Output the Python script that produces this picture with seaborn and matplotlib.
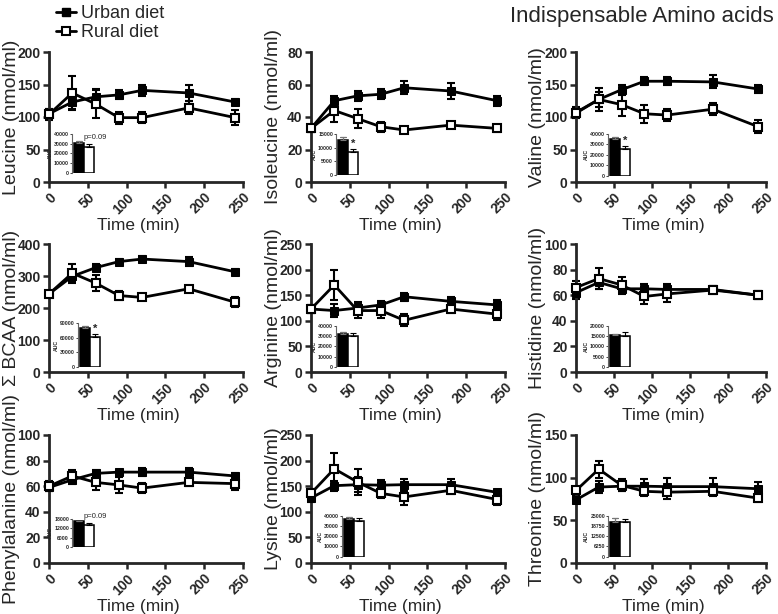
import matplotlib
matplotlib.use("Agg")
import matplotlib.pyplot as plt
import seaborn as sns
import numpy as np
import pandas as pd
from matplotlib.lines import Line2D

# ---------------- data ----------------
time = [0, 30, 60, 90, 120, 180, 240]

leucine_urban = [105, 123, 131, 134, 141, 137, 123]
leucine_urban_sem = [8, 10, 12, 7, 9, 12, 4]
leucine_rural = [104, 137, 120, 99, 99, 114, 99]
leucine_rural_sem = [8, 26, 22, 9, 8, 10, 12]

isoleucine_urban = [33, 50, 53, 54, 58, 56, 50]
isoleucine_urban_sem = [2, 3, 3, 3, 4, 5, 3]
isoleucine_rural = [33, 44, 39, 34, 32, 35, 33]
isoleucine_rural_sem = [2, 7, 6, 3, 2, 2, 2]

valine_urban = [107, 127, 142, 155, 155, 154, 143]
valine_urban_sem = [8, 12, 8, 6, 6, 10, 6]
valine_rural = [106, 127, 119, 105, 103, 112, 85]
valine_rural_sem = [8, 18, 18, 14, 9, 9, 10]

bcaa_urban = [244, 299, 326, 345, 353, 345, 313]
bcaa_urban_sem = [10, 15, 10, 8, 8, 15, 8]
bcaa_rural = [244, 309, 278, 239, 233, 260, 218]
bcaa_rural_sem = [10, 30, 25, 15, 8, 10, 15]

arginine_urban = [123, 120, 125, 131, 147, 138, 131]
arginine_urban_sem = [8, 12, 12, 8, 8, 8, 10]
arginine_rural = [123, 170, 120, 120, 101, 123, 113]
arginine_rural_sem = [8, 30, 15, 15, 12, 8, 12]

histidine_urban = [62, 70, 65, 65, 64.5, 64.5, 60]
histidine_urban_sem = [5, 5, 4, 4, 4, 3, 3]
histidine_rural = [66, 73, 68, 59, 61, 64, 60]
histidine_rural_sem = [5, 8, 6, 6, 6, 3, 3]

phenylalanine_urban = [59, 65, 70, 71, 71, 71, 68]
phenylalanine_urban_sem = [3, 3, 3, 2, 3, 3, 2]
phenylalanine_rural = [60, 68, 63, 61, 58.5, 63, 62]
phenylalanine_rural_sem = [4, 5, 6, 6, 4, 3, 5]

lysine_urban = [127, 151, 153, 152, 153, 153, 138]
lysine_urban_sem = [8, 10, 15, 10, 12, 12, 5]
lysine_rural = [136, 184, 158, 136, 129, 142, 124]
lysine_rural_sem = [8, 30, 25, 10, 15, 8, 10]

threonine_urban = [74, 89, 90, 90, 89.5, 89.5, 87]
threonine_urban_sem = [4, 7, 6, 8, 10, 10, 8]
threonine_rural = [85, 110, 91, 84, 83, 84, 76]
threonine_rural_sem = [4, 10, 7, 5, 8, 6, 5]

ylabels = ["Leucine (nmol/ml)", "Isoleucine (nmol/ml)", "Valine (nmol/ml)",
           "Σ BCAA (nmol/ml)", "Arginine (nmol/ml)", "Histidine (nmol/ml)",
           "Phenylalanine (nmol/ml)", "Lysine (nmol/ml)", "Threonine (nmol/ml)"]
ymax = [200, 80, 200, 400, 250, 100, 100, 250, 150]
ystep = [50, 20, 50, 100, 50, 20, 20, 50, 50]
xticks = [0, 50, 100, 150, 200, 250]

# AUC insets
auc_urban = [30800, 12800, 35200, 80500, 31900, 15400, 16300, 36400, 21300]
auc_urban_sem = [1500, 900, 1500, 5000, 2000, 800, 600, 2000, 2500]
auc_rural = [26200, 8300, 25500, 62200, 29900, 15300, 14000, 35000, 21300]
auc_rural_sem = [3000, 1200, 3000, 5000, 3500, 1800, 1200, 3000, 1500]
auc_ticks = [[0, 10000, 20000, 30000, 40000],
             [0, 5000, 10000, 15000],
             [0, 10000, 20000, 30000, 40000],
             [0, 30000, 60000, 90000],
             [0, 10000, 20000, 30000, 40000],
             [0, 5000, 10000, 15000, 20000],
             [0, 6000, 12000, 18000],
             [0, 10000, 20000, 30000, 40000],
             [0, 6250, 12500, 18750, 25000]]
auc_notes = ["p=0.09", "*", "*", "*", "", "", "p=0.09", "", ""]

series = [
    (leucine_urban, leucine_urban_sem, leucine_rural, leucine_rural_sem),
    (isoleucine_urban, isoleucine_urban_sem, isoleucine_rural, isoleucine_rural_sem),
    (valine_urban, valine_urban_sem, valine_rural, valine_rural_sem),
    (bcaa_urban, bcaa_urban_sem, bcaa_rural, bcaa_rural_sem),
    (arginine_urban, arginine_urban_sem, arginine_rural, arginine_rural_sem),
    (histidine_urban, histidine_urban_sem, histidine_rural, histidine_rural_sem),
    (phenylalanine_urban, phenylalanine_urban_sem, phenylalanine_rural, phenylalanine_rural_sem),
    (lysine_urban, lysine_urban_sem, lysine_rural, lysine_rural_sem),
    (threonine_urban, threonine_urban_sem, threonine_rural, threonine_rural_sem),
]

# ---------------- style ----------------
sns.set_style("ticks")
plt.rcParams['font.family'] = ['Liberation Sans', 'DejaVu Sans']
plt.rcParams['axes.linewidth'] = 2.0

W, H = 778, 614
fig = plt.figure(figsize=(W / 100, H / 100), dpi=100)

col_left = [49, 311, 576]
col_w = [194, 194, 190]
row_tb = [(52, 182), (244, 372), (435, 563)]

# inset placement (fractions of the main axes): left, bottom, width, height
inset_pos = [
    (0.12, 0.07, 0.12, 0.30),
    (0.13, 0.055, 0.12, 0.315),
    (0.17, 0.05, 0.12, 0.32),
    (0.15, 0.04, 0.12, 0.34),
    (0.13, 0.04, 0.12, 0.32),
    (0.17, 0.04, 0.12, 0.32),
    (0.12, 0.125, 0.12, 0.22),
    (0.16, 0.05, 0.12, 0.32),
    (0.17, 0.05, 0.12, 0.32),
]

for i, (u, us, r, rs) in enumerate(series):
    row, col = divmod(i, 3)
    top, bot = row_tb[row]
    rect = [col_left[col] / W, 1 - bot / H, col_w[col] / W, (bot - top) / H]
    ax = fig.add_axes(rect)
    df = pd.DataFrame({"time": time, "urban": u, "rural": r})

    ax.errorbar(time, u, yerr=us, fmt='none', ecolor='black', elinewidth=1.5,
                capsize=3, capthick=1.5, zorder=2, clip_on=False)
    ax.errorbar(time, r, yerr=rs, fmt='none', ecolor='black', elinewidth=1.5,
                capsize=3, capthick=1.5, zorder=2, clip_on=False)
    sns.lineplot(data=df, x="time", y="urban", ax=ax, color='black', lw=2,
                 marker='s', markersize=5.6, markerfacecolor='black',
                 markeredgecolor='black', zorder=3, clip_on=False)
    sns.lineplot(data=df, x="time", y="rural", ax=ax, color='black', lw=2,
                 marker='s', markersize=5.8, markerfacecolor='white',
                 markeredgecolor='black', markeredgewidth=1.5, zorder=4, clip_on=False)

    ax.set_xlim(0, 250)
    ax.set_ylim(0, ymax[i])
    ax.set_xticks(xticks)
    yt = np.arange(0, ymax[i] + 1, ystep[i])
    ax.set_yticks(yt)
    ax.set_xticklabels([str(t) for t in xticks], rotation=45, ha='right',
                       rotation_mode='anchor', fontsize=10, fontweight='bold')
    ax.set_yticklabels([str(int(t)) for t in yt], fontsize=10, fontweight='bold')
    ax.tick_params(axis='both', length=4, width=1.8, pad=2)
    ax.set_xlabel("Time (min)", fontsize=12.5, labelpad=1)
    ax.xaxis.label.set_x(0.46)
    ax.set_ylabel(ylabels[i], fontsize=14, va='center')
    ax.yaxis.set_label_coords(-38 / col_w[col], 0.5)
    sns.despine(ax=ax)
    ax.spines['left'].set_linewidth(2)
    ax.spines['bottom'].set_linewidth(2)

    # AUC inset
    lx, by, iw, ih = inset_pos[i]
    ins = ax.inset_axes([lx, by, iw, ih])
    bdf = pd.DataFrame({"diet": ["Urban", "Rural"],
                        "auc": [auc_urban[i], auc_rural[i]]})
    sns.barplot(data=bdf, x="diet", y="auc", hue="diet",
                palette=["black", "white"], edgecolor="black", linewidth=1.1,
                width=0.98, legend=False, ax=ins)
    ins.errorbar([0, 1], [auc_urban[i], auc_rural[i]],
                 yerr=[[0, 0], [auc_urban_sem[i], auc_rural_sem[i]]],
                 fmt='none', ecolor='black', elinewidth=0.8, capsize=2, capthick=0.8)
    ins.errorbar([0], [auc_urban[i]], yerr=[[0], [auc_urban_sem[i]]],
                 fmt='none', ecolor='#777777', elinewidth=0.8, capsize=2, capthick=0.8)
    ins.set_ylim(0, auc_ticks[i][-1])
    ins.set_xlim(-0.65, 1.6)
    ins.set_yticks(auc_ticks[i])
    ins.set_yticklabels([str(t) for t in auc_ticks[i]], fontsize=3.7, fontweight='bold')
    ins.set_xticks([])
    ins.set_xlabel("")
    ins.set_ylabel("AUC", fontsize=3.7, fontweight='bold', labelpad=1)
    ins.tick_params(axis='y', length=1.5, width=0.6, pad=0.8)
    ins.spines['left'].set_linewidth(0.8)
    ins.spines['left'].set_color('#666666')
    for s in ['top', 'right', 'bottom']:
        ins.spines[s].set_visible(False)
    ins.patch.set_alpha(0)
    note = auc_notes[i]
    if note == "*":
        ins.text(1, auc_rural[i] + auc_rural_sem[i] * 1.1, "*", ha='center',
                 va='bottom', fontsize=8, fontweight='bold')
    elif note:
        ins.text(0.45, auc_urban[i] + auc_urban_sem[i] * 1.2, note, ha='left',
                 va='bottom', fontsize=5.5)

# legend
handles = [Line2D([0], [0], color='black', lw=2, marker='s', markersize=5.5,
                  markerfacecolor='black', markeredgecolor='black'),
           Line2D([0], [0], color='black', lw=2, marker='s', markersize=5.5,
                  markerfacecolor='white', markeredgecolor='black', markeredgewidth=1.5)]
fig.legend(handles, ["Urban diet", "Rural diet"], loc='upper left',
           bbox_to_anchor=(0.056, 1.012), frameon=False, fontsize=13,
           handlelength=1.1, handletextpad=0.25, labelspacing=0.12, borderpad=0.2)

fig.text(0.995, 0.973, "Indispensable Amino acids", ha='right', va='center', fontsize=16)

fig.savefig("out.png", dpi=100)
